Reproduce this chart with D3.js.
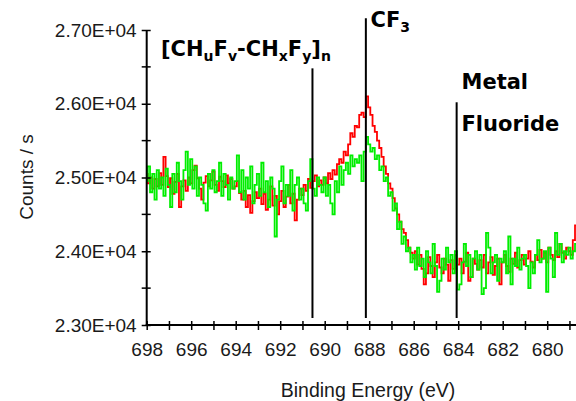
<!DOCTYPE html>
<html><head><meta charset="utf-8">
<script src="https://cdn.jsdelivr.net/npm/d3@7/dist/d3.min.js"></script>
<style>
html,body{margin:0;padding:0;background:#fff;}
svg{display:block;}
</style></head>
<body>
<svg id="chart" width="576" height="401"></svg>
<script>
// ---- data ----
const energyStart = 698.0;
const energyStep = 0.1;
const redCounts = [
25050,24920,25000,24850,24980,24880,25060,24900,25280,25020,
24870,24990,24780,24940,25050,24600,24880,24960,24820,25000,
24920,25100,25160,24990,24850,24700,24930,25020,24880,24960,
25080,24900,24820,25010,24950,24870,25030,24920,24980,24850,
24880,24950,24790,24700,24820,24600,24760,24520,24680,24800,
24720,24850,24640,24780,24560,24700,24880,24620,24750,24500,
24680,24820,24600,24740,24900,24650,24780,24420,24700,24850,
24760,24900,24820,24980,24860,24950,25030,24880,24960,24900,
25000,24920,25060,24980,25100,25040,25180,25250,25200,25350,
25300,25450,25600,25550,25700,25680,25850,25880,25820,26100,
25950,25850,25700,25620,25500,25400,25280,25150,25050,24920,
24850,24720,24580,24500,24400,24300,24250,24150,24050,23980,
23900,24000,23820,23950,23760,23550,23700,23920,23800,23650,
23850,23950,23780,23700,23900,23820,23600,23880,23760,23950,
23820,23900,23700,23860,23980,23600,23650,23900,23830,23750,
23880,23780,23950,23700,23850,23920,23680,23800,23900,23550,
23850,23950,23800,23720,23900,23830,23980,23780,23880,23950,
23820,23900,24000,23860,23780,23950,23880,24020,23900,23980,
23850,24050,23950,23880,24000,23920,24100,23980,23900,24050,
24000,23950,24150,24350];
const greenCounts = [
24950,25150,24800,25050,24700,25100,24850,25000,24750,25120,
24900,24600,25050,24800,25200,24950,24700,25100,25350,24900,
25250,24850,25150,24750,25000,24900,24650,24550,25050,24850,
25100,24800,24950,25200,24750,25050,24900,24700,25000,24850,
24950,25300,24800,25100,24700,25000,24850,25150,24650,24900,
25050,24750,25200,24800,24950,24600,25000,24850,24200,24700,
24950,25150,24650,24900,24750,25100,24550,24900,25000,24700,
24850,24650,24550,24950,25250,24850,24750,25000,24900,24800,
25000,24750,24900,24650,24500,24950,24800,25150,24900,25100,
25200,25050,25300,25150,25250,25200,25300,24950,25350,25550,
25450,25350,25400,25250,25300,25100,25150,24950,25000,24750,
24800,24550,24650,24300,24400,24100,24200,24000,24050,23850,
23950,23750,24050,23800,23900,23650,24000,23850,23700,24100,
23800,23450,23600,23900,23750,24050,23850,23950,23700,24000,
23480,23550,23850,24100,23800,23950,23650,23900,24000,23750,
23950,23420,23500,24250,24050,23700,23850,23950,23600,23900,
23850,24000,23700,24200,23550,23900,23800,24050,23750,23900,
23950,23800,23500,23850,23700,23950,24150,23850,23900,24000,
23450,24050,23900,23650,24250,23950,24100,23850,24000,23950,
24050,23900,24000,24100];
const yTickValues = [23000, 24000, 25000, 26000, 27000];
const yMinorTicks = [23500, 24500, 25500, 26500];
const xTickValues = [698,697,696,695,694,693,692,691,690,689,688,687,686,685,684,683,682,681,680,679];
const xLabelValues = [698,696,694,692,690,688,686,684,682,680];
const markerEnergies = [690.55, 688.15, 684.07];
const markerTops = [26480, 27160, 26020];
const markerBottom = 23095;

// ---- scales ----
const svg = d3.select("#chart");
const x = d3.scaleLinear().domain([698, 680]).range([146.7, 547.2]);
const y = d3.scaleLinear().domain([23000, 27000]).range([325, 30]);
const tickFont = "'Liberation Sans', Arial, sans-serif";

const energies = redCounts.map((_, i) => +(energyStart - i * energyStep).toFixed(2));

// clip
svg.append("defs").append("clipPath").attr("id","plotclip")
  .append("rect").attr("x",146.7).attr("y",0).attr("width",576-146.7).attr("height",325);

const line = d3.line().x((d,i)=>x(energies[i])).y(d=>y(d)).curve(d3.curveStep);
const plot = svg.append("g").attr("clip-path","url(#plotclip)");
plot.append("path").datum(redCounts).attr("d", line)
  .attr("fill","none").attr("stroke","#ff0000").attr("stroke-width",1.8);
plot.append("path").datum(greenCounts).attr("d", line)
  .attr("fill","none").attr("stroke","#00ee00").attr("stroke-width",1.8);

// marker lines
svg.selectAll("line.marker").data(markerEnergies).enter().append("line")
  .attr("class","marker")
  .attr("x1",d=>x(d)).attr("x2",d=>x(d))
  .attr("y1",(d,i)=>y(markerTops[i])).attr("y2",y(markerBottom))
  .attr("stroke","#000").attr("stroke-width",2);

// y axis
const yAxis = svg.append("g").attr("transform","translate(146.7,0)")
  .call(d3.axisLeft(y).tickValues(yTickValues).tickSize(5).tickPadding(5)
    .tickFormat(d => (d/1e4).toFixed(2) + "E+04"));
yAxis.select(".domain").remove();
yAxis.selectAll(".tick line").attr("x1",4).attr("stroke","#000").attr("stroke-width",1.5);
yAxis.selectAll(".tick text").attr("font-family",tickFont).attr("font-size","19px").attr("fill","#1a1a1a");
yAxis.selectAll(".minor").data(yMinorTicks).enter().append("line")
  .attr("x1",-5).attr("x2",4).attr("y1",d=>y(d)).attr("y2",d=>y(d))
  .attr("stroke","#000").attr("stroke-width",1.5);
svg.append("line").attr("x1",146.7).attr("x2",146.7).attr("y1",y(27000)).attr("y2",y(23000)+1)
  .attr("stroke","#000").attr("stroke-width",2);

// x axis
const xAxis = svg.append("g").attr("transform","translate(0,325)")
  .call(d3.axisBottom(x).tickValues(xTickValues).tickSize(5).tickPadding(13)
    .tickFormat(d => xLabelValues.includes(d) ? String(d) : null));
xAxis.select(".domain").remove();
xAxis.selectAll(".tick line").attr("y1",-4).attr("stroke","#000").attr("stroke-width",1.5);
xAxis.selectAll(".tick text").filter(d => !xLabelValues.includes(d)).remove();
xAxis.selectAll(".tick text").attr("font-family",tickFont).attr("font-size","19px").attr("fill","#1a1a1a");
svg.append("line").attr("x1",145.7).attr("x2",576).attr("y1",325).attr("y2",325)
  .attr("stroke","#000").attr("stroke-width",2);

// axis titles
svg.append("text").attr("transform","translate(33,177) rotate(-90)")
  .attr("text-anchor","middle").attr("font-family",tickFont).attr("font-size","19px")
  .attr("fill","#1a1a1a").text("Counts / s");
svg.append("text").attr("x",368).attr("y",397)
  .attr("text-anchor","middle").attr("font-family",tickFont).attr("font-size","19.5px")
  .attr("fill","#1a1a1a").text("Binding Energy (eV)");

// annotations
const annFont = "'DejaVu Sans', Verdana, sans-serif";
function ann(xp, yp, parts){
  const t = svg.append("text").attr("x",xp).attr("y",yp)
    .attr("font-family",annFont).attr("font-weight","bold").attr("font-size","21px").attr("fill","#000");
  let prevSub = false;
  parts.forEach(p=>{
    const ts = t.append("tspan").text(p.t);
    if (p.sub) { ts.attr("font-size","14px").attr("dy", prevSub ? 0 : 5); }
    else if (prevSub) { ts.attr("dy", -5); }
    prevSub = !!p.sub;
  });
}
ann(161, 56, [{t:"[CH"},{t:"u",sub:1},{t:"F"},{t:"v",sub:1},{t:"-CH"},{t:"x",sub:1},{t:"F"},{t:"y",sub:1},{t:"]"},{t:"n",sub:1}]);
ann(370.5, 27, [{t:"CF"},{t:"3",sub:1}]);
ann(461.5, 89, [{t:"Metal"}]);
ann(461.5, 131, [{t:"Fluoride"}]);
</script>
</body></html>
